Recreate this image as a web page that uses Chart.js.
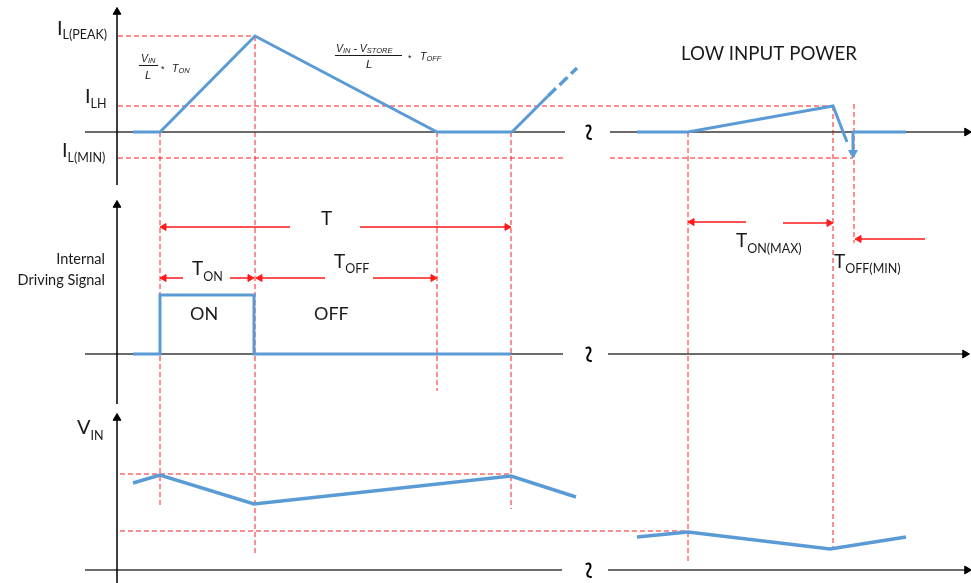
<!DOCTYPE html>
<html>
<head>
<meta charset="utf-8">
<script src="https://cdn.jsdelivr.net/npm/chart.js@4.4.1/dist/chart.umd.min.js"></script>
<style>
  html, body { margin: 0; padding: 0; background: #ffffff; }
  canvas { display: block; }
</style>
</head>
<body>
<canvas id="timing" width="971" height="583"></canvas>
<script>
// ---- Diagram units: x = shared time axis, y = vertical position (0 at top) ----
// Baseline of each panel; signal levels are measured upward from it.
const PANEL_BASE = { il: 132, drive: 354, vin: 570 };

// Inductor current I_L, normal operation
const ilTimes  = [133, 160, 255, 437, 512];
const ilLevels = [0, 0, 96, 0, 0];
// start of the next cycle (solid, then dashed)
const ilNextTimes  = [512, 548];
const ilNextLevels = [0, 36];
const ilDashTimes  = [548, 577];
const ilDashLevels = [36, 64];
// low input power cycle
const ilLowTimes   = [637, 688, 833, 847];
const ilLowLevels  = [0, 0, 26, -10];
const ilDropTimes  = [853, 853, 906];
const ilDropLevels = [-21, 0, 0];

// Current reference levels
const IL_PEAK = 96, IL_LH = 26, IL_MIN = -26;

// Internal driving signal
const driveTimes  = [133, 160, 160, 254, 254, 511];
const driveLevels = [0, 0, 59, 59, 0, 0];

// Input voltage V_IN
const vinTimes     = [133, 160, 254, 511, 576];
const vinLevels    = [87, 95, 66, 94, 73];
const vinLowTimes  = [637, 688, 830, 906];
const vinLowLevels = [33, 38, 21, 33];
const VIN_HIGH = 96, VIN_LOW = 39;

// Vertical timing guides
const guideTimes   = [160, 255, 437, 511, 688, 833, 854];
const guideTops    = [132, 36, 132, 132, 132, 106, 104];
const guideBottoms = [507, 555, 391, 509, 564, 547, 243];

// Interval arrows: from, to, row, which end carries the head
const arrowFrom = [160, 360, 160, 230, 256, 373, 688, 783, 855];
const arrowTo   = [290, 511, 183, 254, 325, 437, 746, 833, 925];
const arrowRow  = [227, 227, 278, 278, 278, 278, 222, 223, 239];
const arrowHead = ['from', 'to', 'from', 'to', 'from', 'to', 'from', 'to', 'from'];

// ---- styles ----
const BLUE = '#5b9bd5';
const RED = '#ff1a1a';
const AXIS = '#000000';
const BASE = '#3a3a3a';
const TXT = '#1a1a1a';
const FONT = 'Lato, "Open Sans", sans-serif';
const MATH = '"Liberation Sans", Arial, sans-serif';

const pts = (xs, ys, base) => xs.map((x, i) => ({ x, y: base - ys[i] }));

const datasets = [];
function line(data, color, width, extra) {
  datasets.push(Object.assign({
    data, showLine: true, borderColor: color, backgroundColor: color,
    borderWidth: width, pointRadius: 0, fill: false, tension: 0,
    borderJoinStyle: 'miter', borderCapStyle: 'butt', clip: false
  }, extra || {}));
}

// signals (drawn on top)
const sig = { order: 0 };
line(pts(ilTimes, ilLevels, PANEL_BASE.il), BLUE, 3, sig);
line(pts(ilNextTimes, ilNextLevels, PANEL_BASE.il), BLUE, 3, sig);
line(pts(ilDashTimes, ilDashLevels, PANEL_BASE.il), BLUE, 3.5, { order: 0, borderDash: [11, 5] });
line(pts(ilLowTimes, ilLowLevels, PANEL_BASE.il), BLUE, 3, sig);
line(pts(ilDropTimes, ilDropLevels, PANEL_BASE.il), BLUE, 3, {
  order: 0, pointStyle: 'triangle', pointRadius: [5, 0, 0], rotation: 180,
  pointBorderWidth: 1, pointBackgroundColor: BLUE, pointBorderColor: BLUE
});
line(pts(driveTimes, driveLevels, PANEL_BASE.drive), BLUE, 3, sig);
line(pts(vinTimes, vinLevels, PANEL_BASE.vin), BLUE, 3.5, sig);
line(pts(vinLowTimes, vinLowLevels, PANEL_BASE.vin), BLUE, 3.5, sig);

// axes with arrow heads
function axisY(x, top, bottom) {
  line([{ x, y: top + 4 }, { x, y: bottom }], AXIS, 1.5, {
    order: 1, pointStyle: 'triangle', pointRadius: [4.5, 0], rotation: 0,
    pointBorderWidth: 1, pointBackgroundColor: AXIS, pointBorderColor: AXIS
  });
}
function axisX(y, left, brk, resume, right) {
  line([{ x: left, y }, { x: brk, y }], BASE, 1.5, { order: 1 });
  line([{ x: resume, y }, { x: right - 4, y }], BASE, 1.5, {
    order: 1, pointStyle: 'triangle', pointRadius: [0, 4.5], rotation: 90,
    pointBorderWidth: 1, pointBackgroundColor: AXIS, pointBorderColor: AXIS
  });
}
axisY(117, 8, 185);
axisY(117, 201, 404);
axisY(117, 414, 583);
axisX(PANEL_BASE.il, 85, 565, 610, 971);
axisX(PANEL_BASE.drive, 85, 563, 608, 969);
axisX(PANEL_BASE.vin, 85, 562, 608, 971);

// interval arrows
arrowFrom.forEach((a, i) => {
  const b = arrowTo[i], y = arrowRow[i], r = 4;
  const headAtFrom = arrowHead[i] === 'from';
  const data = headAtFrom ? [{ x: a + r, y }, { x: b, y }] : [{ x: a, y }, { x: b - r, y }];
  line(data, RED, 1.5, {
    order: 2, pointStyle: 'triangle',
    pointRadius: headAtFrom ? [r, 0] : [0, r],
    rotation: headAtFrom ? 270 : 90,
    pointBorderWidth: 1, pointBackgroundColor: RED, pointBorderColor: RED
  });
});

// dashed reference guides
const dash = { order: 3, borderDash: [5, 3] };
const hGuide = (x0, x1, level, base) => line([{ x: x0, y: base - level }, { x: x1, y: base - level }], RED, 1, dash);
hGuide(118, 255, IL_PEAK, PANEL_BASE.il);
hGuide(118, 833, IL_LH, PANEL_BASE.il);
hGuide(118, 565, IL_MIN, PANEL_BASE.il);
hGuide(610, 853, IL_MIN, PANEL_BASE.il);
hGuide(120, 511, VIN_HIGH, PANEL_BASE.vin);
hGuide(120, 688, VIN_LOW, PANEL_BASE.vin);
guideTimes.forEach((t, i) => line([{ x: t, y: guideTops[i] }, { x: t, y: guideBottoms[i] }], RED, 1, dash));

// ---- text annotations ----
const labels = [
  { x: 57, y: 35, runs: [['I', 20], ['L(PEAK)', 12.5, 4]] },
  { x: 85, y: 103, runs: [['I', 20], ['LH', 12.5, 5]] },
  { x: 62, y: 157, runs: [['I', 20], ['L(MIN)', 12.5, 5]] },
  { x: 681, y: 60, runs: [['LOW INPUT POWER', 18.7]] },
  { x: 321, y: 225, runs: [['T', 19]] },
  { x: 192, y: 275, runs: [['T', 19], ['ON', 12.5, 6]] },
  { x: 334, y: 268, runs: [['T', 19], ['OFF', 12.5, 5]] },
  { x: 190, y: 320, runs: [['ON', 18]] },
  { x: 314, y: 320, runs: [['OFF', 18]] },
  { x: 105, y: 264, runs: [['Internal', 14.5]], align: 'right' },
  { x: 105, y: 285, runs: [['Driving Signal', 14.5]], align: 'right' },
  { x: 77, y: 434, runs: [['V', 20], ['IN', 12.5, 6]] },
  { x: 736, y: 247, runs: [['T', 19], ['ON(MAX)', 12.5, 6]] },
  { x: 834, y: 268, runs: [['T', 19], ['OFF(MIN)', 12.5, 5]] }
];

// slope formulas (italic math)
const formulas = [
  { num: [['V', 10.5], ['IN', 7.5, 1]], numX: 141, numY: 62, barX0: 139, barX1: 158, barY: 65,
    den: 'L', denX: 145, denY: 79, starX: 161, starY: 72, tail: [['T', 10.5], ['ON', 7.5, 1]], tailX: 172, tailY: 72 },
  { num: [['V', 10.5], ['IN', 7.5, 1], [' - ', 10.5], ['V', 10.5], ['STORE', 7.5, 1]], numX: 336, numY: 52, barX0: 335, barX1: 402, barY: 55,
    den: 'L', denX: 366, denY: 68, starX: 408, starY: 61, tail: [['T', 10.5], ['OFF', 7.5, 1]], tailX: 420, tailY: 60 }
];

const breaks = [PANEL_BASE.il, PANEL_BASE.drive, PANEL_BASE.vin];

function drawRuns(ctx, x, y, runs, family, style, align) {
  let total = 0;
  runs.forEach(r => { ctx.font = `${style} ${r[1]}px ${family}`; total += ctx.measureText(r[0]).width; });
  let cx = align === 'right' ? x - total : x;
  runs.forEach(r => {
    ctx.font = `${style} ${r[1]}px ${family}`;
    ctx.fillText(r[0], cx, y + (r[2] || 0));
    cx += ctx.measureText(r[0]).width;
  });
}

const annotate = {
  id: 'annotate',
  afterDatasetsDraw(chart) {
    const { ctx, scales: { x: sx, y: sy } } = chart;
    const X = v => sx.getPixelForValue(v), Y = v => sy.getPixelForValue(v);
    ctx.save();
    ctx.fillStyle = TXT;
    ctx.textBaseline = 'alphabetic';
    ctx.textAlign = 'left';
    labels.forEach(l => drawRuns(ctx, X(l.x), Y(l.y), l.runs, FONT, '', l.align));

    formulas.forEach(f => {
      drawRuns(ctx, X(f.numX), Y(f.numY), f.num, MATH, 'italic', 'left');
      ctx.strokeStyle = TXT; ctx.lineWidth = 1;
      ctx.beginPath(); ctx.moveTo(X(f.barX0), Y(f.barY) + 0.5); ctx.lineTo(X(f.barX1), Y(f.barY) + 0.5); ctx.stroke();
      drawRuns(ctx, X(f.denX), Y(f.denY), [[f.den, 11.5]], MATH, 'italic', 'left');
      drawRuns(ctx, X(f.starX), Y(f.starY), [['*', 9]], MATH, '', 'left');
      drawRuns(ctx, X(f.tailX), Y(f.tailY), f.tail, MATH, 'italic', 'left');
    });

    // axis break marks: a small vertical wave
    ctx.strokeStyle = '#000';
    ctx.lineWidth = 2;
    ctx.lineCap = 'round';
    breaks.forEach(b => {
      const cx = X(589), cy = Y(b);
      ctx.beginPath();
      ctx.moveTo(cx - 2.5, cy - 6);
      ctx.bezierCurveTo(cx + 1, cy - 8, cx + 3, cy - 4, cx, cy);
      ctx.bezierCurveTo(cx - 3, cy + 4, cx - 2, cy + 7, cx + 2, cy + 7);
      ctx.stroke();
    });
    ctx.restore();
  }
};

new Chart(document.getElementById('timing'), {
  type: 'scatter',
  data: { datasets },
  options: {
    responsive: false,
    animation: false,
    events: [],
    layout: { padding: 0, autoPadding: false },
    plugins: { legend: { display: false }, tooltip: { enabled: false } },
    scales: {
      x: { type: 'linear', min: 0, max: 971, display: false },
      y: { type: 'linear', min: 0, max: 583, reverse: true, display: false }
    }
  },
  plugins: [annotate]
});
</script>
</body>
</html>
